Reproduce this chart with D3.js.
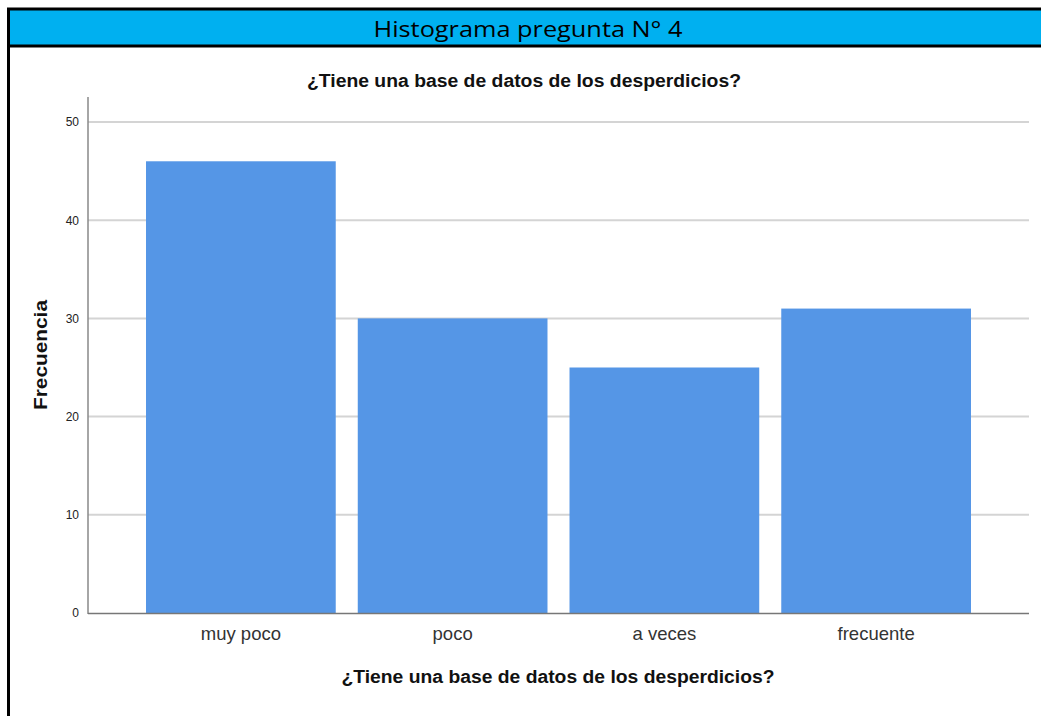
<!DOCTYPE html>
<html><head><meta charset="utf-8">
<script src="https://cdn.jsdelivr.net/npm/d3@7"></script>
<style>
html,body{margin:0;padding:0;background:#fff;}
svg{display:block;}
</style></head>
<body>
<svg id="c" width="1041" height="716"></svg>
<script>
const categories = ["muy poco", "poco", "a veces", "frecuente"];
const frequencies = [46, 30, 25, 31];
const yTicks = [0, 10, 20, 30, 40, 50];
const headerTitle = "Histograma pregunta N° 4";
const chartTitle = "¿Tiene una base de datos de los desperdicios?";
const xTitle = "¿Tiene una base de datos de los desperdicios?";
const yTitle = "Frecuencia";

const svg = d3.select("#c");

// frame + header
svg.append("rect").attr("x", 8).attr("y", 9).attr("width", 1040).attr("height", 37)
  .attr("fill", "#00B0F0");
svg.append("line").attr("x1", 7).attr("x2", 1041).attr("y1", 9).attr("y2", 9)
  .attr("stroke", "#000").attr("stroke-width", 3);
svg.append("line").attr("x1", 7).attr("x2", 1041).attr("y1", 46).attr("y2", 46)
  .attr("stroke", "#000").attr("stroke-width", 3);
svg.append("line").attr("x1", 8.5).attr("x2", 8.5).attr("y1", 8).attr("y2", 716)
  .attr("stroke", "#000").attr("stroke-width", 3);
svg.append("text").attr("x", 528).attr("y", 37).attr("text-anchor", "middle")
  .attr("font-family", "Open Sans, sans-serif").attr("font-size", 22)
  .attr("textLength", 309).attr("lengthAdjust", "spacingAndGlyphs")
  .attr("fill", "#000").text(headerTitle);

const x = d3.scaleBand().domain(categories).range([135, 982])
  .paddingInner(0.104).paddingOuter(0.052);
const y = d3.scaleLinear().domain([0, 50]).range([613, 122]);

// gridlines
svg.append("g").selectAll("line").data(yTicks.filter(d => d > 0)).join("line")
  .attr("x1", 88).attr("x2", 1029)
  .attr("y1", d => y(d)).attr("y2", d => y(d))
  .attr("stroke", "#d4d4d4").attr("stroke-width", 2);

// bars
svg.append("g").selectAll("rect").data(categories).join("rect")
  .attr("x", d => x(d)).attr("width", x.bandwidth())
  .attr("y", (d, i) => y(frequencies[i]))
  .attr("height", (d, i) => y(0) - y(frequencies[i]))
  .attr("fill", "#5596E6");

// y axis
const yAxis = svg.append("g").attr("transform", "translate(88,0)")
  .call(d3.axisLeft(y).tickValues(yTicks).tickSize(0).tickPadding(9));
yAxis.select(".domain").remove();
yAxis.selectAll("text").attr("font-family", "Liberation Sans, Arial, sans-serif")
  .attr("font-size", 12).attr("fill", "#222");
svg.append("line").attr("x1", 88).attr("x2", 88).attr("y1", 97).attr("y2", 614)
  .attr("stroke", "#888").attr("stroke-width", 1.5);

// x axis
const xAxis = svg.append("g").attr("transform", "translate(0,613)")
  .call(d3.axisBottom(x).tickSize(0).tickPadding(14));
xAxis.select(".domain").remove();
xAxis.selectAll("text").attr("font-family", "Liberation Sans, Arial, sans-serif")
  .attr("font-size", 18.5).attr("fill", "#333");
svg.append("line").attr("x1", 88).attr("x2", 1029).attr("y1", 613.5).attr("y2", 613.5)
  .attr("stroke", "#777").attr("stroke-width", 1.5);

// titles
svg.append("text").attr("x", 524).attr("y", 87).attr("text-anchor", "middle")
  .attr("font-family", "Liberation Sans, Arial, sans-serif").attr("font-weight", "bold")
  .attr("font-size", 18).attr("textLength", 434).attr("lengthAdjust", "spacingAndGlyphs")
  .attr("fill", "#111").text(chartTitle);
svg.append("text").attr("x", 558).attr("y", 683).attr("text-anchor", "middle")
  .attr("font-family", "Liberation Sans, Arial, sans-serif").attr("font-weight", "bold")
  .attr("font-size", 18).attr("textLength", 433).attr("lengthAdjust", "spacingAndGlyphs")
  .attr("fill", "#111").text(xTitle);
svg.append("text").attr("transform", "translate(47,355) rotate(-90)").attr("text-anchor", "middle")
  .attr("font-family", "Liberation Sans, Arial, sans-serif").attr("font-weight", "bold")
  .attr("font-size", 18).attr("textLength", 110).attr("lengthAdjust", "spacingAndGlyphs")
  .attr("fill", "#111").text(yTitle);
</script>
</body></html>
